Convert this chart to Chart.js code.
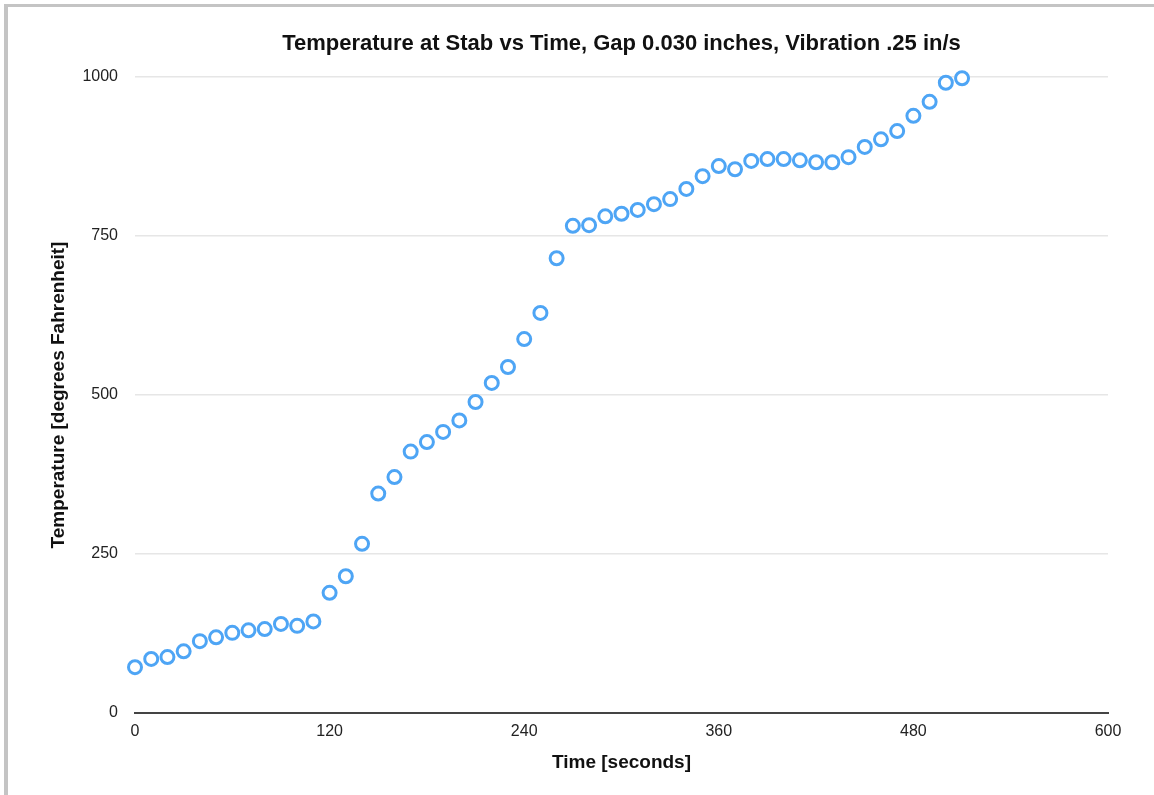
<!DOCTYPE html>
<html>
<head>
<meta charset="utf-8">
<script src="https://cdn.jsdelivr.net/npm/chart.js@4"></script>
<style>
  html, body { margin: 0; padding: 0; background: #fff; overflow: hidden; }
  #frame {
    position: absolute; left: 4px; top: 4px; width: 2000px; height: 2000px;
    border-left: 4px solid #c4c4c4; border-top: 3px solid #c4c4c4;
  }
  #wrap { position: absolute; left: 0; top: 0; width: 1154px; height: 795px; }
</style>
</head>
<body>
<div id="frame"></div>
<div id="wrap"><canvas id="chart"></canvas></div>
<script>
// time in seconds
const times = [0, 10, 20, 30, 40, 50, 60, 70, 80, 90, 100, 110, 120, 130, 140, 150, 160, 170,
  180, 190, 200, 210, 220, 230, 240, 250, 260, 270, 280, 290, 300, 310, 320, 330, 340, 350,
  360, 370, 380, 390, 400, 410, 420, 430, 440, 450, 460, 470, 480, 490, 500, 510];

// temperature at stab, degrees F
const temps = [72, 85, 88, 97, 113, 119, 126, 130, 132, 140, 137, 144, 189, 215, 266, 345, 371, 411,
  426, 442, 460, 489, 519, 544, 588, 629, 715, 766, 767, 781, 785, 791, 800, 808, 824, 844,
  860, 855, 868, 871, 871, 869, 866, 866, 874, 890, 902, 915, 939, 961, 991, 998];

const xTicks = [0, 120, 240, 360, 480, 600];
const yTicks = [0, 250, 500, 750, 1000];

const POINT = '#4ea5f5';
const TEXT  = '#222';
const FONT  = "'Liberation Sans', Arial, Helvetica, sans-serif";

Chart.defaults.font.family = FONT;
Chart.defaults.color = TEXT;

new Chart(document.getElementById('chart'), {
    type: 'scatter',
    data: {
        datasets: [{
            data: times.map((t, i) => ({ x: t, y: temps[i] })),
            borderColor: POINT,
            backgroundColor: '#fff',
            borderWidth: 3,
            pointRadius: 6.5,
            pointHoverRadius: 6.5,
            clip: false
        }]
    },
    options: {
        responsive: true,
        maintainAspectRatio: false,
        animation: false,
        layout: { padding: { top: 20, left: 0, right: 46, bottom: 0 } },
        plugins: {
            legend: { display: false },
            tooltip: { enabled: false },
            title: {
                display: true,
                fullSize: false,
                text: 'Temperature at Stab vs Time, Gap 0.030 inches, Vibration .25 in/s',
                color: '#111',
                font: { size: 22, weight: 'bold' },
                padding: { top: 10.8, bottom: 19.8 }
            }
        },
        scales: {
            x: {
                type: 'linear',
                min: 0, max: 600,
                afterBuildTicks: s => { s.ticks = xTicks.map(v => ({ value: v })); },
                afterFit: s => { s.height = 82; },
                grid: { color: 'transparent', drawTicks: false },
                border: { display: true, color: '#444', width: 2 },
                ticks: { padding: 9, color: TEXT, font: { size: 16 }, maxRotation: 0,
                         callback: v => String(v) },
                title: {
                    display: true, text: 'Time [seconds]', color: '#111',
                    font: { size: 19, weight: 'bold' },
                    padding: { top: 4, bottom: 20.6 }
                }
            },
            y: {
                min: 0, max: 1000,
                afterBuildTicks: s => { s.ticks = yTicks.map(v => ({ value: v })); },
                afterFit: s => { s.width = 135; },
                grid: { color: '#e6e6e6', lineWidth: 1.5, drawTicks: false },
                border: { display: false },
                ticks: { padding: 17, color: TEXT, font: { size: 16 },
                         callback: v => String(v) },
                title: {
                    display: true, text: 'Temperature [degrees Fahrenheit]', color: '#111',
                    font: { size: 19, weight: 'bold' },
                    padding: { top: 47.6, bottom: 4 }
                }
            }
        }
    }
});
</script>
</body>
</html>
